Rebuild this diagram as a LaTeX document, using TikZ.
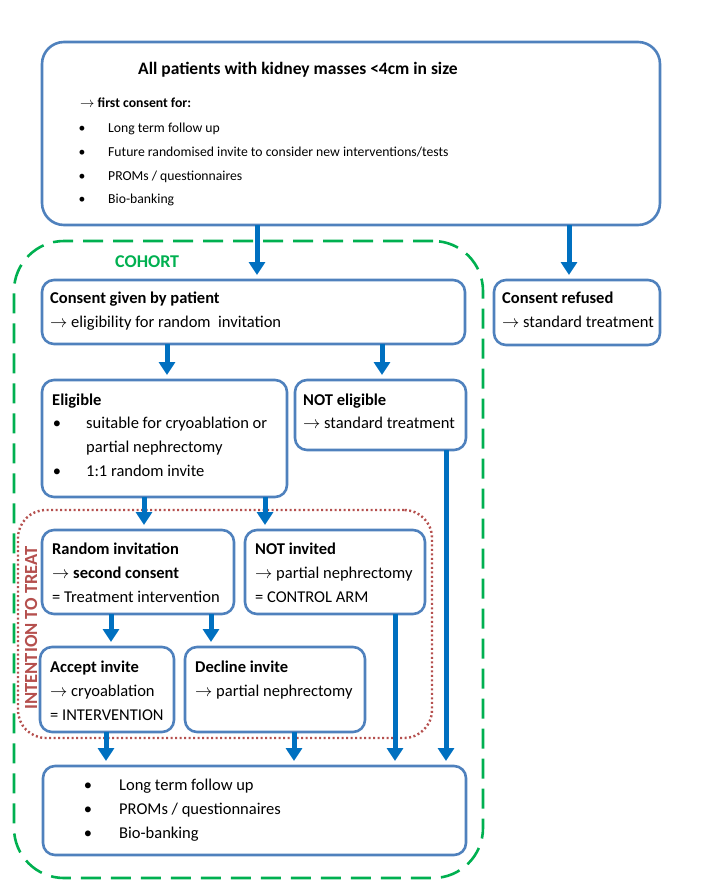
\documentclass[tikz,border=0pt]{standalone}
\usepackage{fontspec}
\setmainfont{Carlito}
\usetikzlibrary{arrows.meta}
\definecolor{boxblue}{HTML}{4F81BD}
\definecolor{arrblue}{HTML}{0070C0}
\definecolor{cohortgreen}{HTML}{00B050}
\definecolor{ittred}{HTML}{B5504E}
\begin{document}
\begin{tikzpicture}[x=1pt,y=-1pt,
  box/.style={draw=boxblue, line width=2.6pt, rounded corners=12pt, fill=white, inner sep=0pt, outer sep=0pt},
  txt/.style={anchor=base west, inner sep=0pt, font=\fontsize{16.5}{19}\selectfont},
  btxt/.style={txt, font=\fontsize{16.5}{19}\selectfont\bfseries},
  bul/.style={anchor=base, inner sep=0pt, font=\fontsize{16.5}{19}\selectfont},
  ttxt/.style={anchor=base west, inner sep=0pt, font=\fontsize{13.7}{16}\selectfont},
  tbtxt/.style={ttxt, font=\fontsize{13.7}{16}\selectfont\bfseries},
  tbul/.style={anchor=base, inner sep=0pt, font=\fontsize{13.7}{16}\selectfont},
  arr/.style={draw=arrblue, line width=5pt, -{Triangle[length=13pt,width=16pt]}, shorten >=5pt}]
\useasboundingbox (0,0) rectangle (703,884);
% group frames
\node[draw=cohortgreen, line width=2.6pt, dash pattern=on 20pt off 10pt, rounded corners=50pt,
  minimum width=469pt, minimum height=637pt, inner sep=0pt] (cohort) at (248.5,559.5) {};
\node[draw=ittred, line width=2.4pt, dash pattern=on 2pt off 2.5pt, rounded corners=28pt,
  minimum width=414pt, minimum height=228pt, inner sep=0pt] (itt) at (225,624) {};
\node[anchor=base west, inner sep=0pt, text=cohortgreen, font=\fontsize{18}{21}\selectfont\bfseries] (cohortlbl) at (115,267) {COHORT};
\node[rotate=90, inner sep=0pt, text=ittred, font=\fontsize{18.5}{21}\selectfont\bfseries] (ittlbl) at (31,628) {INTENTION TO TREAT};
% boxes
\node[box, rounded corners=22pt, minimum width=618pt, minimum height=183pt] (top) at (351,133.5) {};
\node[box, minimum width=423pt, minimum height=64pt] (cg) at (253.5,312) {};
\node[box, minimum width=166pt, minimum height=65pt] (cr) at (577,312.5) {};
\node[box, minimum width=245pt, minimum height=117pt] (elig) at (164.5,438.5) {};
\node[box, minimum width=171pt, minimum height=70pt] (nelig) at (380.5,415) {};
\node[box, minimum width=192pt, minimum height=84pt] (rinv) at (138,572) {};
\node[box, minimum width=180pt, minimum height=84pt] (ninv) at (335,572) {};
\node[box, minimum width=134pt, minimum height=85pt] (acc) at (107,689.5) {};
\node[box, minimum width=180pt, minimum height=85pt] (dec) at (275,689.5) {};
\node[box, minimum width=423pt, minimum height=89pt] (bot) at (254.5,810.5) {};
% arrows
\draw[arr] (top.south -| 257,0) -- (cg.north -| 257,0);
\draw[arr] (top.south -| 569,0) -- (cr.north -| 569,0);
\draw[arr] (cg.south -| 167,0) -- (elig.north -| 167,0);
\draw[arr] (cg.south -| 382,0) -- (nelig.north -| 382,0);
\draw[arr] (elig.south -| 144,0) -- (rinv.north -| 144,0);
\draw[arr] (elig.south -| 265,0) -- (ninv.north -| 265,0);
\draw[arr] (rinv.south -| 111,0) -- (acc.north -| 111,0);
\draw[arr] (rinv.south -| 211,0) -- (dec.north -| 211,0);
\draw[arr] (acc.south -| 106,0) -- (bot.north -| 106,0);
\draw[arr] (dec.south -| 294,0) -- (bot.north -| 294,0);
\draw[arr] (ninv.south -| 395,0) -- (bot.north -| 395,0);
\draw[arr] (nelig.south -| 446,0) -- (bot.north -| 446,0);
% texts: top box
\node[anchor=base west, inner sep=0pt, font=\fontsize{17.5}{20}\selectfont\bfseries] (t0) at (138,74) {All patients with kidney masses <4cm in size};
\node[tbtxt] (t1) at (80,107) {$\rightarrow$ first consent for:};
\node[tbul] (b1) at (82,132.7) {\textbullet}; \node[ttxt] (t2) at (108,132.7) {Long term follow up};
\node[tbul] (b2) at (82,156.3) {\textbullet}; \node[ttxt] (t3) at (108,156.3) {Future randomised invite to consider new interventions/tests};
\node[tbul] (b3) at (82,180) {\textbullet}; \node[ttxt] (t4) at (108,180) {PROMs / questionnaires};
\node[tbul] (b4) at (82,203.5) {\textbullet}; \node[ttxt] (t5) at (108,203.5) {Bio-banking};
% consent given / refused
\node[btxt] (cg1) at (50,303) {Consent given by patient};
\node[txt] (cg2) at (50,327) {$\rightarrow$ eligibility for random\ \ invitation};
\node[btxt] (cr1) at (502,303) {Consent refused};
\node[txt] (cr2) at (502,327) {$\rightarrow$ standard treatment};
% eligible
\node[btxt] (e1) at (52,405) {Eligible};
\node[bul] (eb1) at (57,428.5) {\textbullet}; \node[txt] (e2) at (86,428.5) {suitable for cryoablation or};
\node[txt] (e3) at (86,452.5) {partial nephrectomy};
\node[bul] (eb2) at (57,476.5) {\textbullet}; \node[txt] (e4) at (86,476.5) {1:1 random invite};
\node[btxt] (ne1) at (303,405) {NOT eligible};
\node[txt] (ne2) at (303,428.5) {$\rightarrow$ standard treatment};
% random invitation / not invited
\node[btxt] (r1) at (52,554) {Random invitation};
\node[btxt] (r2) at (52,578) {$\rightarrow$ second consent};
\node[txt] (r3) at (52,602) {= Treatment intervention};
\node[btxt] (n1) at (255,554) {NOT invited};
\node[txt] (n2) at (255,578) {$\rightarrow$ partial nephrectomy};
\node[txt] (n3) at (255,602) {= CONTROL ARM};
% accept / decline
\node[btxt] (a1) at (50,672) {Accept invite};
\node[txt] (a2) at (50,696) {$\rightarrow$ cryoablation};
\node[txt] (a3) at (50,720) {= INTERVENTION};
\node[btxt] (d1) at (195,672) {Decline invite};
\node[txt] (d2) at (195,696) {$\rightarrow$ partial nephrectomy};
% bottom
\node[bul] (bb1) at (88,790) {\textbullet}; \node[txt] (bt1) at (119,790) {Long term follow up};
\node[bul] (bb2) at (88,814) {\textbullet}; \node[txt] (bt2) at (119,814) {PROMs / questionnaires};
\node[bul] (bb3) at (88,838) {\textbullet}; \node[txt] (bt3) at (119,838) {Bio-banking};
\end{tikzpicture}
\end{document}
